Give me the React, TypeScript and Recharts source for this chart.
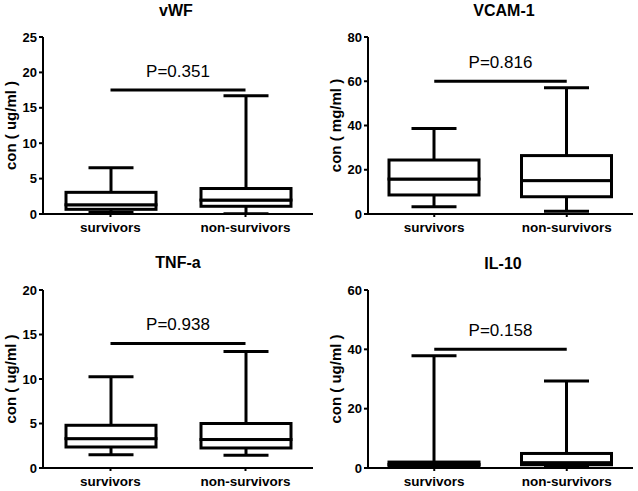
import React from 'react';
import { ComposedChart, Bar, XAxis, YAxis, ReferenceLine } from 'recharts';

const categories = ['survivors', 'non-survivors'];

const vwfMin = [0.2, 0.05];
const vwfQ1 = [0.66, 1.09];
const vwfMedian = [1.3, 1.97];
const vwfQ3 = [3.06, 3.6];
const vwfMax = [6.54, 16.7];
const vwfTicks = [0, 5, 10, 15, 20, 25];

const vcamMin = [3.3, 1.2];
const vcamQ1 = [8.6, 7.8];
const vcamMedian = [15.8, 15.1];
const vcamQ3 = [24.4, 26.4];
const vcamMax = [38.7, 57.1];
const vcamTicks = [0, 20, 40, 60, 80];

const tnfMin = [1.5, 1.43];
const tnfQ1 = [2.36, 2.25];
const tnfMedian = [3.3, 3.2];
const tnfQ3 = [4.8, 5.0];
const tnfMax = [10.25, 13.1];
const tnfTicks = [0, 5, 10, 15, 20];

const il10Min = [0.3, 0.5];
const il10Q1 = [0.6, 1.1];
const il10Median = [1.2, 1.8];
const il10Q3 = [2.0, 4.9];
const il10Max = [37.8, 29.3];
const il10Ticks = [0, 20, 40, 60];

const FONT = '"Liberation Sans", Arial, sans-serif';
const S = '#000';
const SW = 3;

function norm(p: any) {
  const y = Math.min(p.y, p.y + p.height);
  const h = Math.abs(p.height);
  return { x: p.x, y, w: p.width, h };
}

function MinCap(p: any) {
  const { x, y, w } = norm(p);
  const cx = x + w / 2;
  return <line x1={cx - w / 4} x2={cx + w / 4} y1={y} y2={y} stroke={S} strokeWidth={SW} />;
}
function LowWhisker(p: any) {
  const { x, y, w, h } = norm(p);
  const cx = x + w / 2;
  return <line x1={cx} x2={cx} y1={y} y2={y + h} stroke={S} strokeWidth={SW} />;
}
function BoxPart(p: any) {
  const { x, y, w, h } = norm(p);
  return <rect x={x} y={y} width={w} height={h} fill="#fff" stroke={S} strokeWidth={SW} />;
}
function HighWhisker(p: any) {
  const { x, y, w, h } = norm(p);
  const cx = x + w / 2;
  return (
    <g>
      <line x1={cx} x2={cx} y1={y} y2={y + h} stroke={S} strokeWidth={SW} />
      <line x1={cx - w / 4} x2={cx + w / 4} y1={y} y2={y} stroke={S} strokeWidth={SW} />
    </g>
  );
}

function AxisTitle(props: any) {
  const vb = props.viewBox || {};
  const x = vb.x + vb.width - 33;
  const y = vb.y + vb.height / 2;
  return (
    <text
      x={x}
      y={y}
      transform={`rotate(-90 ${x} ${y})`}
      textAnchor="middle"
      dominantBaseline="central"
      fontFamily={FONT}
      fontWeight="bold"
      fontSize={15}
      fill="#000"
    >
      {props.text}
    </text>
  );
}

function buildRows(mn: number[], q1: number[], md: number[], q3: number[], mx: number[]) {
  return categories.map((name, i) => ({
    name,
    base: mn[i],
    lowWhisker: q1[i] - mn[i],
    lowBox: md[i] - q1[i],
    highBox: q3[i] - md[i],
    highWhisker: mx[i] - q3[i],
  }));
}

type PanelProps = {
  left: number;
  top: number;
  width: number;
  height: number;
  yAxisWidth: number;
  marginTop: number;
  marginRight: number;
  marginBottom: number;
  title: string;
  titleX: number;
  titleY: number;
  yLabel: string;
  ticks: number[];
  rows: any[];
  bracketY: number;
  pText: string;
};

function Panel(pp: PanelProps) {
  const yMax = pp.ticks[pp.ticks.length - 1];
  return (
    <div style={{ position: 'absolute', left: pp.left, top: pp.top, width: pp.width, height: pp.height }}>
      <ComposedChart
        width={pp.width}
        height={pp.height}
        data={pp.rows}
        margin={{ top: pp.marginTop, right: pp.marginRight, bottom: pp.marginBottom, left: 0 }}
        barSize={90}
      >
        <XAxis
          dataKey="name"
          type="category"
          height={22}
          tickSize={3}
          tickMargin={5}
          axisLine={{ stroke: S, strokeWidth: 2 }}
          tickLine={{ stroke: S, strokeWidth: 2 }}
          tick={{ fill: '#000', fontSize: 13.5, fontWeight: 'bold', fontFamily: FONT }}
          interval={0}
        />
        <YAxis
          type="number"
          domain={[0, yMax]}
          ticks={pp.ticks}
          width={pp.yAxisWidth}
          tickSize={4}
          tickMargin={2}
          axisLine={{ stroke: S, strokeWidth: 2 }}
          tickLine={{ stroke: S, strokeWidth: 2 }}
          tick={{ fill: '#000', fontSize: 13, fontWeight: 'bold', fontFamily: FONT }}
          allowDataOverflow
          label={<AxisTitle text={pp.yLabel} />}
        />
        <Bar dataKey="base" stackId="b" isAnimationActive={false} shape={<MinCap />} />
        <Bar dataKey="lowWhisker" stackId="b" isAnimationActive={false} shape={<LowWhisker />} />
        <Bar dataKey="lowBox" stackId="b" isAnimationActive={false} shape={<BoxPart />} />
        <Bar dataKey="highBox" stackId="b" isAnimationActive={false} shape={<BoxPart />} />
        <Bar dataKey="highWhisker" stackId="b" isAnimationActive={false} shape={<HighWhisker />} />
        <ReferenceLine
          segment={[
            { x: categories[0], y: pp.bracketY },
            { x: categories[1], y: pp.bracketY },
          ]}
          stroke={S}
          strokeWidth={3}
          label={{ value: pp.pText, position: 'top', offset: 13, fill: '#000', fontSize: 17, fontFamily: FONT }}
        />
      </ComposedChart>
      <svg
        width={pp.width}
        height={pp.height}
        style={{ position: 'absolute', left: 0, top: 0, pointerEvents: 'none' }}
      >
        <text
          x={pp.titleX}
          y={pp.titleY}
          textAnchor="middle"
          fontFamily={FONT}
          fontWeight="bold"
          fontSize={16}
          fill="#000"
        >
          {pp.title}
        </text>
      </svg>
    </div>
  );
}

export default function App() {
  return (
    <div style={{ position: 'absolute', left: 0, top: 0, width: 638, height: 491, background: '#fff' }}>
      <Panel
        left={0} top={0} width={319} height={245}
        yAxisWidth={43} marginTop={37} marginRight={6} marginBottom={9}
        title="vWF" titleX={176} titleY={16}
        yLabel="con ( ug/ml )" ticks={vwfTicks}
        rows={buildRows(vwfMin, vwfQ1, vwfMedian, vwfQ3, vwfMax)}
        bracketY={17.5} pText="P=0.351"
      />
      <Panel
        left={318} top={0} width={320} height={245}
        yAxisWidth={50} marginTop={37} marginRight={5} marginBottom={9}
        title="VCAM-1" titleX={186} titleY={16}
        yLabel="con ( mg/ml )" ticks={vcamTicks}
        rows={buildRows(vcamMin, vcamQ1, vcamMedian, vcamQ3, vcamMax)}
        bracketY={60} pText="P=0.816"
      />
      <Panel
        left={0} top={245} width={319} height={246}
        yAxisWidth={43} marginTop={45} marginRight={6} marginBottom={1}
        title="TNF-a" titleX={178} titleY={23}
        yLabel="con ( ug/ml )" ticks={tnfTicks}
        rows={buildRows(tnfMin, tnfQ1, tnfMedian, tnfQ3, tnfMax)}
        bracketY={14} pText="P=0.938"
      />
      <Panel
        left={318} top={245} width={320} height={246}
        yAxisWidth={50} marginTop={45} marginRight={5} marginBottom={1}
        title="IL-10" titleX={185} titleY={24}
        yLabel="con ( ug/ml )" ticks={il10Ticks}
        rows={buildRows(il10Min, il10Q1, il10Median, il10Q3, il10Max)}
        bracketY={40} pText="P=0.158"
      />
    </div>
  );
}
